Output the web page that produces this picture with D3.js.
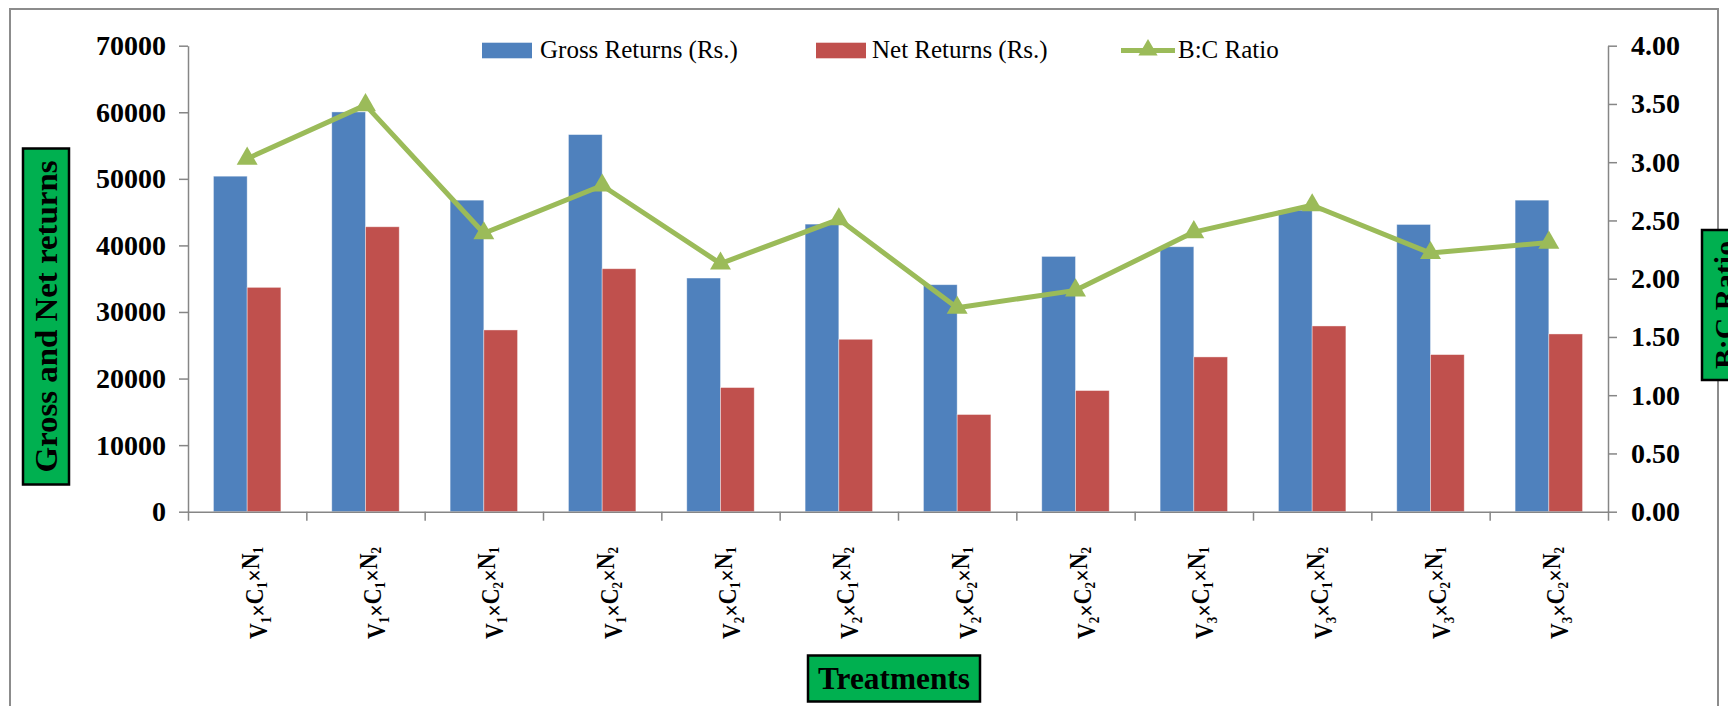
<!DOCTYPE html>
<html>
<head>
  <meta charset="utf-8"/>
  <title>Returns and B:C ratio</title>
  <style>
    body { margin: 0; background: #fff; }
    svg text { font-family: "Liberation Serif", "Times New Roman", serif; }
  </style>
</head>
<body>
    <div id="graph"></div>
<script src="https://cdn.jsdelivr.net/npm/d3@7"></script>
<script>
    // treatments on the x axis
    var categories = ["V1×C1×N1", "V1×C1×N2", "V1×C2×N1", "V1×C2×N2",
                      "V2×C1×N1", "V2×C1×N2", "V2×C2×N1", "V2×C2×N2",
                      "V3×C1×N1", "V3×C1×N2", "V3×C2×N1", "V3×C2×N2"];
    // series values
    var grossReturns = [50400, 60050, 46800, 56650, 35100, 43200, 34100, 38350, 39800, 45300, 43150, 46800];
    var netReturns   = [33700, 42800, 27300, 36500, 18650, 25900, 14600, 18200, 23250, 27900, 23600, 26700];
    var bcRatio      = [3.03, 3.49, 2.39, 2.80, 2.13, 2.51, 1.75, 1.90, 2.40, 2.63, 2.22, 2.31];
    // tick labels
    var leftTicks  = [0, 10000, 20000, 30000, 40000, 50000, 60000, 70000];
    var rightTicks = [0, 0.5, 1, 1.5, 2, 2.5, 3, 3.5, 4];
    var seriesNames = ["Gross Returns (Rs.)", "Net Returns (Rs.)", "B:C Ratio"];

    var W = 1728, H = 706;
    var plotL = 188, plotR = 1608, plotT = 45.7, plotB = 511.7;
    var blue = "#4f81bd", red = "#c0504d", green = "#9bbb59", axisGrey = "#868686";

    var svg = d3.select("#graph").append("svg")
                .attr("width", W)
                .attr("height", H);

    // outer frame
    svg.append("rect")
        .attr("x", 10).attr("y", 9)
        .attr("width", 1708).attr("height", 710)
        .attr("fill", "none")
        .attr("stroke", "#8c8c8c")
        .attr("stroke-width", 2);

    var x = d3.scaleBand().domain(categories).range([plotL, plotR]).padding(0);
    var xs = d3.scaleBand().domain(["gross", "net"])
               .range([x.bandwidth() * 0.215, x.bandwidth() * 0.785]);
    var xEdge = d3.scaleLinear().domain([0, categories.length]).range([plotL, plotR]);
    var y = d3.scaleLinear().domain([0, 70000]).range([plotB, plotT]);
    var y2 = d3.scaleLinear().domain([0, 4]).range([plotB, plotT]);

    // bars
    var rows = categories.map(function(c, i) {
      return {cat: c, gross: grossReturns[i], net: netReturns[i], bc: bcRatio[i]};
    });
    var groups = svg.append("g").selectAll("g").data(rows).enter().append("g")
        .attr("transform", function(d) { return "translate(" + x(d.cat) + ",0)"; });
    groups.append("rect")
        .attr("x", xs("gross")).attr("width", xs.bandwidth())
        .attr("y", function(d) { return y(d.gross); })
        .attr("height", function(d) { return plotB - y(d.gross); })
        .attr("fill", blue)
        .attr("stroke", "#fff").attr("stroke-opacity", 0.5).attr("stroke-width", 0.8);
    groups.append("rect")
        .attr("x", xs("net")).attr("width", xs.bandwidth())
        .attr("y", function(d) { return y(d.net); })
        .attr("height", function(d) { return plotB - y(d.net); })
        .attr("fill", red)
        .attr("stroke", "#fff").attr("stroke-opacity", 0.5).attr("stroke-width", 0.8);

    // axes
    function styleAxis(g) {
      g.selectAll("path, line").attr("stroke", axisGrey).attr("stroke-width", 1.5);
      g.selectAll("text")
        .attr("fill", "#000")
        .style("font-family", "'Liberation Serif', serif")
        .style("font-weight", "bold")
        .style("font-size", "28px");
    }
    svg.append("g")
        .attr("transform", "translate(" + plotL + ",0)")
        .call(d3.axisLeft(y).tickValues(leftTicks).tickSize(9).tickSizeOuter(0).tickPadding(13)
                .tickFormat(d3.format("d")))
        .call(styleAxis);
    svg.append("g")
        .attr("transform", "translate(" + plotR + ",0)")
        .call(d3.axisRight(y2).tickValues(rightTicks).tickSize(9).tickSizeOuter(0).tickPadding(14)
                .tickFormat(d3.format(".2f")))
        .call(styleAxis);
    svg.append("g")
        .attr("transform", "translate(0," + plotB + ")")
        .call(d3.axisBottom(xEdge).tickValues(d3.range(categories.length + 1))
                .tickSize(9).tickSizeOuter(0).tickFormat(""))
        .call(styleAxis);

    // B:C line
    var cx = function(d) { return x(d.cat) + x.bandwidth() / 2; };
    var line = d3.line().x(cx).y(function(d) { return y2(d.bc); });
    svg.append("path")
        .datum(rows)
        .attr("d", line)
        .attr("fill", "none")
        .attr("stroke", green)
        .attr("stroke-width", 5)
        .attr("stroke-linejoin", "round");
    var tri = d3.symbol().type(d3.symbolTriangle).size(190);
    svg.append("g").selectAll("path").data(rows).enter().append("path")
        .attr("d", tri)
        .attr("transform", function(d) { return "translate(" + cx(d) + "," + y2(d.bc) + ")"; })
        .attr("fill", green);

    // x tick labels with subscripts, rotated
    var labels = svg.append("g").selectAll("text").data(categories).enter().append("text")
        .attr("transform", function(c) {
          return "translate(" + (x(c) + x.bandwidth() / 2 + 19.5) + ",547) rotate(-90)";
        })
        .attr("text-anchor", "end")
        .attr("textLength", 92)
        .attr("lengthAdjust", "spacingAndGlyphs")
        .style("font-weight", "bold")
        .style("font-size", "25px")
        .attr("fill", "#000");
    labels.each(function(c) {
      var t = d3.select(this);
      var parts = c.split("×");
      parts.forEach(function(p, i) {
        t.append("tspan").text(p[0]).attr("dy", i === 0 ? 0 : -4);
        t.append("tspan").text(p.slice(1)).style("font-size", "15px").attr("dy", 4);
        if (i < parts.length - 1) t.append("tspan").text("×").attr("dy", -4);
      });
    });

    // axis titles in green boxes
    function titleBox(cxp, cyp, w, h, rot, txt, size, len) {
      var g = svg.append("g").attr("transform", "translate(" + cxp + "," + cyp + ") rotate(" + rot + ")");
      g.append("rect")
        .attr("x", -w / 2).attr("y", -h / 2).attr("width", w).attr("height", h)
        .attr("fill", "#00b050").attr("stroke", "#000").attr("stroke-width", 2.5);
      var t = g.append("text")
        .attr("text-anchor", "middle")
        .attr("y", size * 0.34)
        .style("font-weight", "bold")
        .style("font-size", size + "px")
        .attr("fill", "#000")
        .text(txt);
      if (len) t.attr("textLength", len).attr("lengthAdjust", "spacingAndGlyphs");
    }
    titleBox(46, 316.5, 336, 46, -90, "Gross and Net returns", 32, 312);
    titleBox(1725, 305, 150, 46, -90, "B:C Ratio", 30, 128);
    titleBox(894, 678.5, 172, 46, 0, "Treatments", 32, 152);

    // legend
    var lg = svg.append("g");
    lg.append("rect").attr("x", 482).attr("y", 42.7).attr("width", 50).attr("height", 15.6).attr("fill", blue);
    lg.append("rect").attr("x", 816).attr("y", 42.7).attr("width", 50).attr("height", 15.6).attr("fill", red);
    lg.append("line").attr("x1", 1121).attr("x2", 1175).attr("y1", 50.5).attr("y2", 50.5)
      .attr("stroke", green).attr("stroke-width", 5);
    lg.append("path").attr("d", d3.symbol().type(d3.symbolTriangle).size(160))
      .attr("transform", "translate(1148,50)").attr("fill", green);
    var legendX = [540, 872, 1178];
    lg.selectAll("text").data(seriesNames).enter().append("text")
      .attr("x", function(d, i) { return legendX[i]; })
      .attr("y", 58.3)
      .style("font-size", "25px")
      .attr("fill", "#000")
      .text(function(d) { return d; });
</script>
</body>
</html>
